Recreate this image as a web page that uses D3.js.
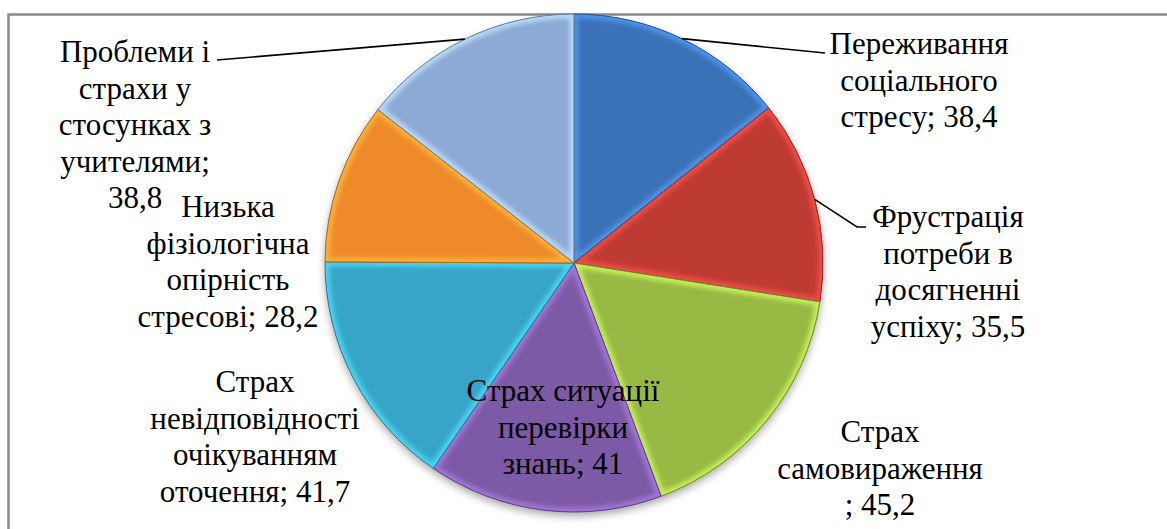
<!DOCTYPE html>
<html>
<head>
<meta charset="utf-8">
<script src="https://cdn.jsdelivr.net/npm/d3@7"></script>
<style>
  body { margin: 0; background: #fff; }
</style>
</head>
<body>
<svg id="chart" width="1167" height="529"></svg>
<script>
// Pie data: stress factors (values in %)
const categories = [
  "Переживання соціального стресу",
  "Фрустрація потреби в досягненні успіху",
  "Страх самовираження",
  "Страх ситуації перевірки знань",
  "Страх невідповідності очікуванням оточення",
  "Низька фізіологічна опірність стресові",
  "Проблеми і страхи у стосунках з учителями"
];
const values = [38.4, 35.5, 45.2, 41, 41.7, 28.2, 38.8];
// Label text broken into lines; {v} is replaced by the slice value
const labelLines = [
  ["Переживання", "соціального", "стресу; {v}"],
  ["Фрустрація", "потреби в", "досягненні", "успіху; {v}"],
  ["Страх", "самовираження", "; {v}"],
  ["Страх ситуації", "перевірки", "знань; {v}"],
  ["Страх", "невідповідності", "очікуванням", "оточення; {v}"],
  ["Низька", "фізіологічна", "опірність", "стресові; {v}"],
  ["Проблеми і", "страхи у", "стосунках з", "учителями;", "{v}"]
];
const colors = ["#3B72B7", "#BE3B34", "#98B944", "#7D5AA6", "#37A5C7", "#EE8A2A", "#8DA9D6"];

// Layout
const W = 1167, H = 529;
const cx = 574, cy = 263, R = 249;
const fontSize = 31, lineH = 36.5;
const fontFamily = '"Liberation Serif"';
// label block centre x and first baseline y
const labelAnchor = [[919, 54], [948, 227], [880, 442], [563, 401], [255, 392], [228, 217], [135, 62]];
// leader line end points (null = no leader)
const leaderEnds = [[[825, 53]], [[857, 227], [866, 227]], null, null, null, null, [[217, 60]]];

const fmt = v => String(v).replace(".", ",");

const svg = d3.select("#chart");
const defs = svg.append("defs");

// chart frame
svg.append("rect")
  .attr("x", 8.5).attr("y", 14.5)
  .attr("width", W + 20).attr("height", H + 20)
  .attr("fill", "#fff").attr("stroke", "#8a8a8a").attr("stroke-width", 2.5);

const shadow = defs.append("filter").attr("id", "shadow")
  .attr("x", "-10%").attr("y", "-10%").attr("width", "120%").attr("height", "125%");
shadow.append("feGaussianBlur").attr("in", "SourceAlpha").attr("stdDeviation", 4).attr("result", "b");
shadow.append("feOffset").attr("in", "b").attr("dy", 4).attr("result", "o");
shadow.append("feComponentTransfer").attr("in", "o")
  .append("feFuncA").attr("type", "linear").attr("slope", 0.35);

const soft = defs.append("filter").attr("id", "soft");
soft.append("feGaussianBlur").attr("stdDeviation", 2.2);

const pie = d3.pie().sort(null).value(d => d)(values);
const arc = d3.arc().innerRadius(0).outerRadius(R);

const g = svg.append("g").attr("transform", `translate(${cx},${cy})`);

// soft shadow under the pie
g.append("circle").attr("r", R).attr("fill", "#000").attr("filter", "url(#shadow)");

pie.forEach((p, i) => {
  defs.append("clipPath").attr("id", "clip" + i)
    .append("path").attr("d", arc(p));
});

const slices = g.selectAll("g.slice").data(pie).join("g").attr("class", "slice");

slices.append("path")
  .attr("d", arc)
  .attr("fill", (d, i) => colors[i]);

// bevelled edge highlight
slices.append("g")
  .attr("clip-path", (d, i) => `url(#clip${i})`)
  .append("path")
  .attr("d", arc)
  .attr("fill", "none")
  .attr("stroke", (d, i) => d3.color(colors[i]).brighter(0.9))
  .attr("stroke-opacity", 0.75)
  .attr("stroke-width", 9)
  .attr("filter", "url(#soft)");

slices.append("path")
  .attr("d", arc)
  .attr("fill", "none")
  .attr("stroke", (d, i) => d3.color(colors[i]).darker(0.9))
  .attr("stroke-width", 1);

// leader lines from slice edge midpoint
pie.forEach((p, i) => {
  if (!leaderEnds[i]) return;
  const a = (p.startAngle + p.endAngle) / 2;
  const start = [cx + R * Math.sin(a), cy - R * Math.cos(a)];
  svg.append("path")
    .attr("d", d3.line()([start, ...leaderEnds[i]]))
    .attr("fill", "none")
    .attr("stroke", "#000")
    .attr("stroke-width", 1.6);
});

// labels
labelLines.forEach((lines, i) => {
  const [x, y] = labelAnchor[i];
  const t = svg.append("text")
    .attr("text-anchor", "middle")
    .style("font-family", fontFamily)
    .style("font-size", fontSize + "px")
    .attr("fill", "#000");
  lines.forEach((ln, k) => {
    t.append("tspan")
      .attr("x", x)
      .attr("y", y + k * lineH)
      .style("font-family", fontFamily)
      .text(ln.replace("{v}", fmt(values[i])));
  });
});
</script>
</body>
</html>
